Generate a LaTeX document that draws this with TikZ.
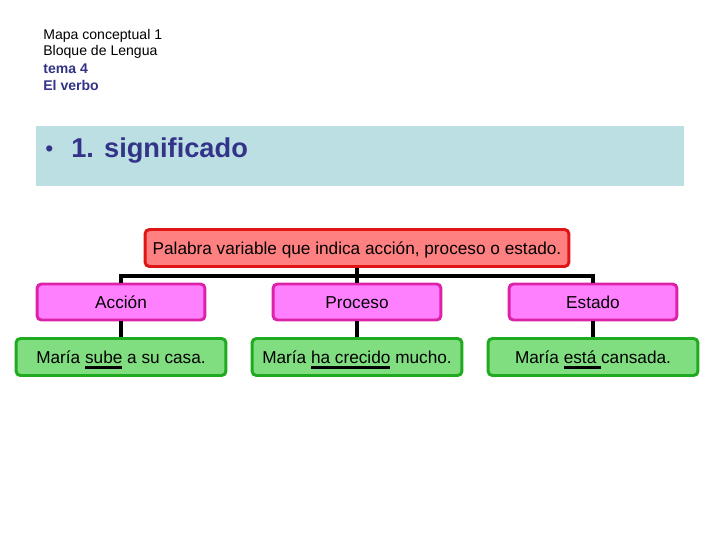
\documentclass[tikz,border=0pt]{standalone}
\usepackage{fontspec}
\setmainfont{Liberation Sans}
\usepackage{tikz,xcolor}
\usetikzlibrary{calc}

\definecolor{azulosc}{HTML}{333388}
\definecolor{banda}{HTML}{BBDFE3}
\definecolor{rojofill}{HTML}{FF8080}
\definecolor{rojoline}{HTML}{E01515}
\definecolor{rosafill}{HTML}{FF80FF}
\definecolor{rosaline}{HTML}{DD22AA}
\definecolor{verdefill}{HTML}{80DD80}
\definecolor{verdeline}{HTML}{20AA20}

\newsavebox{\cajasub}
\newcommand{\subrayado}[1]{\sbox{\cajasub}{#1}\rlap{\rule[-2.9pt]{\wd\cajasub}{1.4pt}}\usebox{\cajasub}}

\tikzset{
  caja/.style={rounded corners=2.5pt, line width=1.7pt, align=center,
    font=\fontsize{9.8}{11}\selectfont, inner sep=0pt, text height=8.5pt, text depth=1pt},
  cajaroja/.style={caja, fill=rojofill, draw=rojoline, minimum width=8.48cm, minimum height=0.74cm},
  cajarosa/.style={caja, fill=rosafill, draw=rosaline, minimum width=3.36cm, minimum height=0.72cm},
  cajaverde/.style={caja, fill=verdefill, draw=verdeline, minimum width=4.2cm, minimum height=0.74cm},
  rama/.style={line width=2.3pt, black},
  cabecera/.style={anchor=west, inner sep=0pt, font=\fontsize{8}{9}\selectfont}
}

\begin{document}
\begin{tikzpicture}[x=0.02cm,y=-0.02cm]
  \useasboundingbox (0,0) rectangle (720,540);

  % cabecera
  \node[cabecera] (h1) at (43,36) {Mapa conceptual 1};
  \node[cabecera] (h2) at (43,52) {Bloque de Lengua};
  \node[cabecera,text=azulosc] (h3) at (43,69) {\bfseries tema 4};
  \node[cabecera,text=azulosc] (h4) at (43,85) {\bfseries El verbo};

  % banda del titulo
  \fill[banda] (36,126) rectangle (684,186);
  \node[anchor=west,inner sep=0pt,text=azulosc,font=\fontsize{13}{15}\selectfont] (bul) at (45,151) {\textbullet};
  \node[anchor=west,inner sep=0pt,text=azulosc,font=\fontsize{15.5}{18}\selectfont\bfseries] (tit) at (71,151) {1. significado};

  % conectores
  \coordinate (bar) at (357,276);

  \node[cajaroja] (def) at (357,248) {Palabra variable que indica acción, proceso o estado.};

  \node[cajarosa] (acc) at (121,302) {Acción};
  \node[cajarosa] (pro) at (357,302) {Proceso};
  \node[cajarosa] (est) at (593,302) {Estado};

  \draw[rama] (def.south) -- (bar);
  \draw[rama] (acc.north) |- (bar) -| (est.north);
  \draw[rama] (bar) -- (pro.north);
  \draw[rama] (acc.south) -- ++(0,20);
  \draw[rama] (pro.south) -- ++(0,20);
  \draw[rama] (est.south) -- ++(0,20);

  \node[cajaverde] (ej1) at (121,357) {María \subrayado{sube} a su casa.};
  \node[cajaverde] (ej2) at (357,357) {María \subrayado{ha crecido} mucho.};
  \node[cajaverde] (ej3) at (593,357) {María \subrayado{está\ }cansada.};

\end{tikzpicture}
\end{document}
